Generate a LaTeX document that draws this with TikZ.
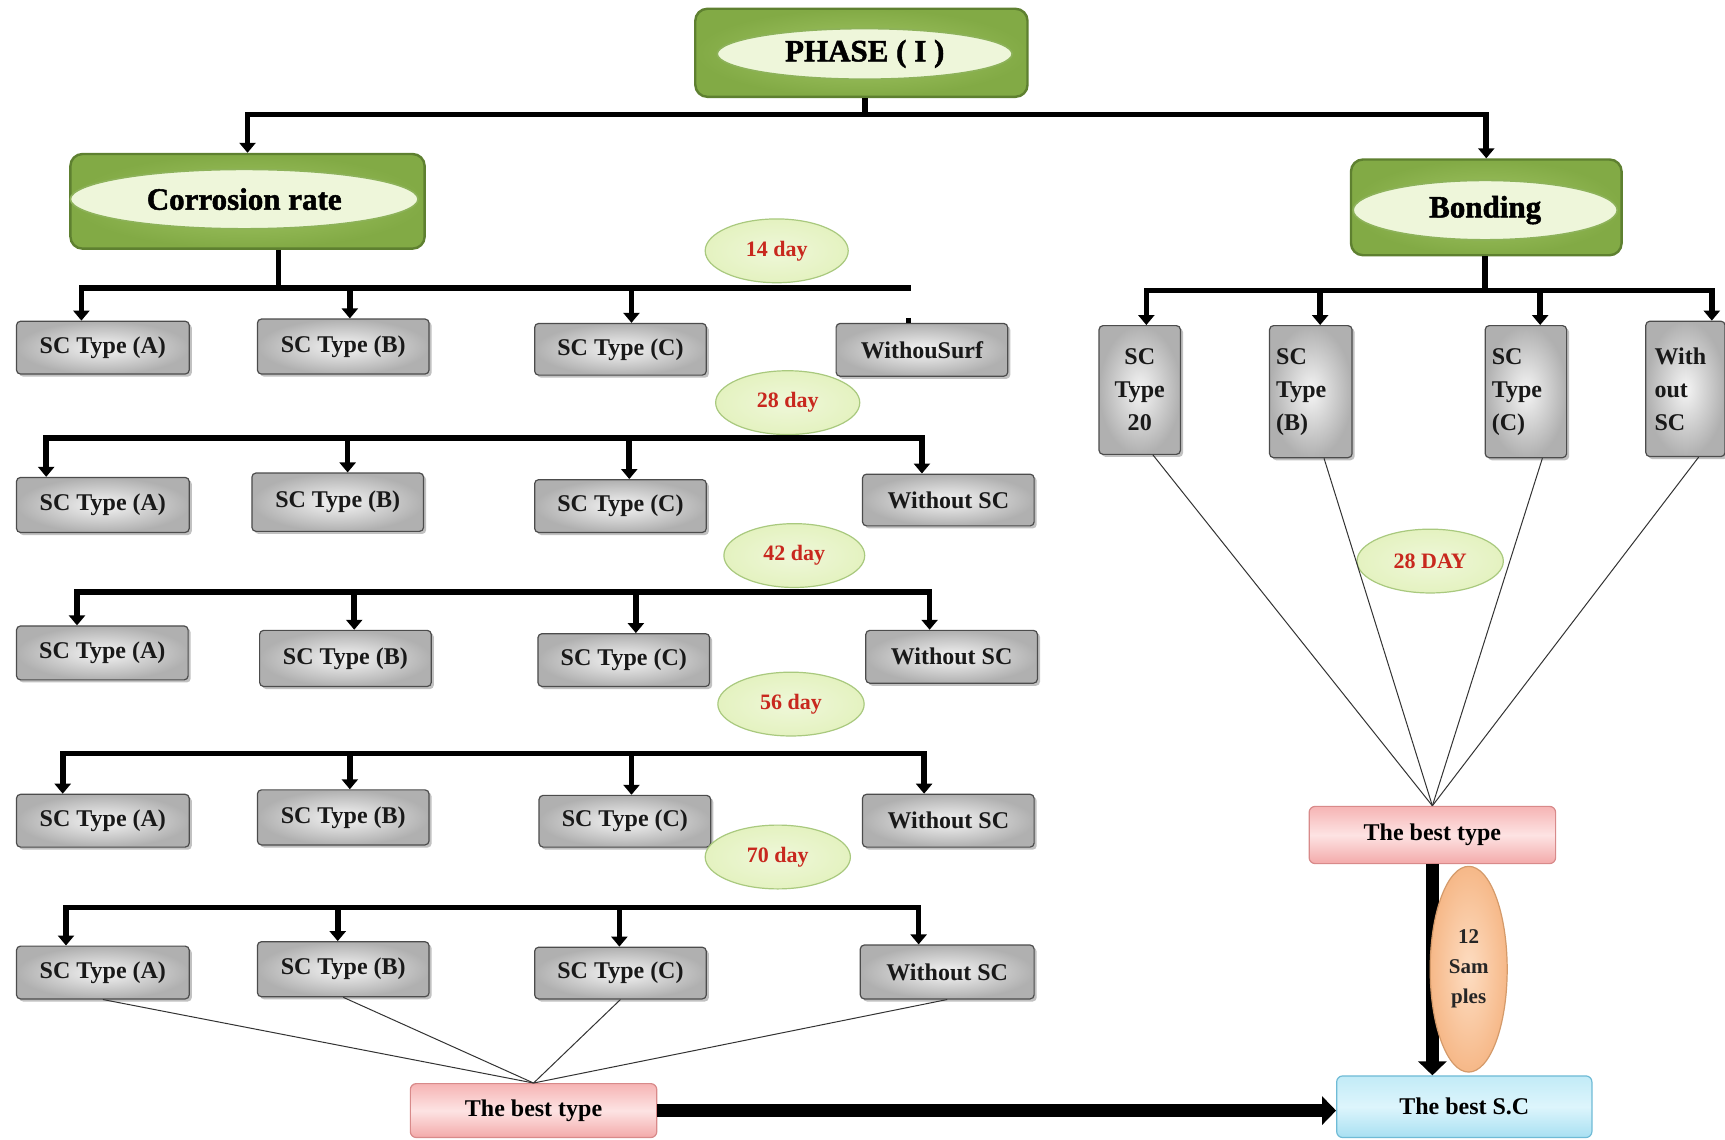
\documentclass[tikz,border=0pt]{standalone}
\usepackage{fontspec}
\setmainfont{Liberation Serif}
\newfontfamily\headfont{Liberation Serif}[BoldFeatures={FakeBold=1.6}]
\usetikzlibrary{shapes.geometric,shadows,arrows.meta,calc}
\definecolor{grnL}{HTML}{A3C766}
\definecolor{grnM}{HTML}{82AA45}
\definecolor{grnD}{HTML}{5E8030}
\definecolor{ellF}{HTML}{EEF6DA}
\definecolor{grnE}{HTML}{8DB25A}
\definecolor{dayF}{HTML}{E4F2C0}
\definecolor{dayD}{HTML}{A9C97E}
\definecolor{dayR}{HTML}{C8281E}
\definecolor{pinkT}{HTML}{F6B4B4}
\definecolor{pinkM}{HTML}{FDE3E3}
\definecolor{pinkB}{HTML}{F3AAAA}
\definecolor{pinkD}{HTML}{D88A8A}
\definecolor{blueT}{HTML}{C2EBF7}
\definecolor{blueM}{HTML}{DDF5FC}
\definecolor{blueB}{HTML}{A8E0F2}
\definecolor{blueD}{HTML}{6FBBD6}
\definecolor{orgI}{HTML}{FDDDC2}
\definecolor{orgO}{HTML}{F6B888}
\definecolor{orgD}{HTML}{D49A6A}
\newcommand\fsz[2]{\fontsize{#1}{#2}\selectfont}
\begin{document}
\begin{tikzpicture}[x=0.55pt,y=-0.55pt,
  sz/.style 2 args={minimum width=#1*0.55pt,minimum height=#2*0.55pt,inner sep=0pt},
  gbox/.style={draw=gray!60!black,line width=0.6pt,rounded corners=2pt,
    inner color=gray!8,outer color=gray!62,
    drop shadow={shadow xshift=1.3pt,shadow yshift=-1.3pt,fill=gray!60,opacity=0.8},
    font=\bfseries\fsz{12}{16.5},text=black!90},
  greenbox/.style={draw=grnD,line width=1.2pt,rounded corners=6pt,inner color=grnL,outer color=grnM},
  gell/.style={ellipse,draw=grnE,line width=0.8pt,fill=ellF,font=\headfont\bfseries\fsz{15.5}{18}},
  day/.style={ellipse,draw=dayD,line width=0.6pt,inner color=white!40!dayF,outer color=dayF,
    text=dayR,font=\bfseries\fsz{11}{13},sz={#1}{58}},
  pinkbox/.style={draw=pinkD,line width=0.6pt,rounded corners=3pt,top color=pinkT,bottom color=pinkB,
    middle color=pinkM,font=\bfseries\fsz{12}{14}},
  bluebox/.style={draw=blueD,line width=0.6pt,rounded corners=3pt,top color=blueT,bottom color=blueB,
    middle color=blueM,font=\bfseries\fsz{12}{14}},
  bar/.style={line width=2.8pt,line join=miter},
  barr/.style={bar,-{Triangle[width=8pt,length=5pt]}},
  barrr/.style={bar,{Triangle[width=8pt,length=5pt]}-{Triangle[width=8pt,length=5pt]}},
  thinl/.style={line width=0.5pt,draw=black!80},
  bigarr/.style={line width=6.5pt,-{Triangle[width=14pt,length=7pt]}}
]
\useasboundingbox (0,0) rectangle (1568,1036);
\fill[white] (0,0) rectangle (1568,1036);

% headings
\node[greenbox,sz={302}{80}] (P) at (783,48) {};
\node[gell,sz={268}{46}] (Pe) at (786,49) {PHASE ( I )};
\node[greenbox,sz={322}{86}] (CR) at (225,183) {};
\node[gell,sz={316}{54}] (CRe) at (222,181) {Corrosion rate};
\node[greenbox,sz={246}{87}] (BD) at (1351,188.5) {};
\node[gell,sz={240}{54}] (BDe) at (1350,191) {Bonding};

% row boxes
\node[gbox,sz={157}{48}] (A1) at (93.5,316) {SC Type (A)};
\node[gbox,sz={156}{50}] (B1) at (312,315) {SC Type (B)};
\node[gbox,sz={156}{47}] (C1) at (564,317.5) {SC Type (C)};
\node[gbox,sz={156}{48}] (W1) at (838,318) {WithouSurf};

\node[gbox,sz={157}{50}] (A2) at (93.5,459) {SC Type (A)};
\node[gbox,sz={156}{53}] (B2) at (307,456.5) {SC Type (B)};
\node[gbox,sz={156}{48}] (C2) at (564,460) {SC Type (C)};
\node[gbox,sz={156}{47}] (W2) at (862,454.5) {Without SC};

\node[gbox,sz={156}{49}] (A3) at (93,593.5) {SC Type (A)};
\node[gbox,sz={156}{51}] (B3) at (314,598.5) {SC Type (B)};
\node[gbox,sz={156}{48}] (C3) at (567,600) {SC Type (C)};
\node[gbox,sz={156}{48}] (W3) at (865,597) {Without SC};

\node[gbox,sz={157}{48}] (A4) at (93.5,746) {SC Type (A)};
\node[gbox,sz={156}{50}] (B4) at (312,743) {SC Type (B)};
\node[gbox,sz={156}{47}] (C4) at (568,746.5) {SC Type (C)};
\node[gbox,sz={156}{48}] (W4) at (862,746) {Without SC};

\node[gbox,sz={157}{48}] (A5) at (93.5,884) {SC Type (A)};
\node[gbox,sz={156}{50}] (B5) at (312,881) {SC Type (B)};
\node[gbox,sz={156}{47}] (C5) at (564,884.5) {SC Type (C)};
\node[gbox,sz={158}{49}] (W5) at (861,883.5) {Without SC};

% vertical boxes (bonding)
\node[gbox,sz={74}{117},align=center] (V1) at (1036,354.5) {SC\\Type\\20};
\node[gbox,sz={75}{120},align=left,text width=63*0.55pt] (V2) at (1191.5,356) {SC\\Type\\(B)};
\node[gbox,sz={74}{120},align=left,text width=62*0.55pt] (V3) at (1387,356) {SC\\Type\\(C)};
\node[gbox,sz={72}{123},align=left,text width=56*0.55pt] (V4) at (1532,353.5) {With\\out\\SC};

% best boxes
\node[pinkbox,sz={224}{49}] (LBT) at (485,1009.5) {The best type};
\node[pinkbox,sz={224}{52}] (RBT) at (1302,759) {The best type};
\node[bluebox,sz={232}{56}] (BSC) at (1331,1006) {The best S.C};

% day ellipses
\node[day=130] (d14) at (706,228) {14 day};
\node[day=131] (d28) at (716,366) {28 day};
\node[day=128] (d42) at (722,505) {42 day};
\node[day=133] (d56) at (719,640) {56 day};
\node[day=132] (d70) at (707,779) {70 day};
\node[day=133] (d28r) at (1300,510) {28 DAY};

% phase connectors
\coordinate (pj) at (786,104);
\draw[bar] (pj |- P.south) -- (pj);
\draw[barr] (pj) -| (CR.north);
\draw[barr] (pj) -| (BD.north);

% corrosion row 1
\coordinate (c1) at (253,262);
\coordinate (r1a) at (74,262);
\coordinate (r1b) at (318,262);
\coordinate (r1c) at (574,262);
\coordinate (r1e) at (828,262);
\coordinate (tick) at (826,289);
\draw[bar] (c1 |- CR.south) -- (c1);
\draw[barr] (r1e) -- (r1a) -- (r1a |- A1.north);
\draw[barr] (r1b) -- (r1b |- B1.north);
\draw[barr] (r1c) -- (r1c |- C1.north);
\draw[line width=2.4pt] (tick) -- (tick |- W1.north);

% row 2
\coordinate (r2a) at (42,398);
\coordinate (r2b) at (316,398);
\coordinate (r2c) at (572,398);
\coordinate (r2e) at (838,398);
\draw[barrr] (r2a |- A2.north) -- (r2a) -- (r2e) -- (r2e |- W2.north);
\draw[barr] (r2b) -- (r2b |- B2.north);
\draw[barr] (r2c) -- (r2c |- C2.north);

% row 3
\coordinate (r3a) at (70,538);
\coordinate (r3b) at (322,538);
\coordinate (r3c) at (578,538);
\coordinate (r3e) at (845,538);
\draw[barrr] (r3a |- A3.north) -- (r3a) -- (r3e) -- (r3e |- W3.north);
\draw[barr] (r3b) -- (r3b |- B3.north);
\draw[barr] (r3c) -- (r3c |- C3.north);

% row 4
\coordinate (r4a) at (57,685);
\coordinate (r4b) at (318,685);
\coordinate (r4c) at (574,685);
\coordinate (r4e) at (840,685);
\draw[barrr] (r4a |- A4.north) -- (r4a) -- (r4e) -- (r4e |- W4.north);
\draw[barr] (r4b) -- (r4b |- B4.north);
\draw[barr] (r4c) -- (r4c |- C4.north);

% row 5
\coordinate (r5a) at (60,825);
\coordinate (r5b) at (307,825);
\coordinate (r5c) at (563,825);
\coordinate (r5e) at (835,825);
\draw[barrr] (r5a |- A5.north) -- (r5a) -- (r5e) -- (r5e |- W5.north);
\draw[barr] (r5b) -- (r5b |- B5.north);
\draw[barr] (r5c) -- (r5c |- C5.north);

% bonding bar
\coordinate (bj) at (1350,264);
\coordinate (ba) at (1042,264);
\coordinate (bb) at (1200,264);
\coordinate (bc) at (1400,264);
\coordinate (be) at (1556,264);
\draw[bar] (bj |- BD.south) -- (bj);
\draw[barrr] (ba |- V1.north) -- (ba) -- (be) -- (be |- V4.north);
\draw[barr] (bb) -- (bb |- V2.north);
\draw[barr] (bc) -- (bc |- V3.north);

% thin convergence lines
\draw[thinl] (A5.south) -- (LBT.north);
\draw[thinl] (B5.south) -- (LBT.north);
\draw[thinl] (C5.south) -- (LBT.north);
\draw[thinl] (W5.south) -- (LBT.north);
\draw[thinl] ($(V1.south)+(12,0)$) -- (RBT.north);
\draw[thinl] ($(V2.south)+(12,0)$) -- (RBT.north);
\draw[thinl] ($(V3.south)+(15,0)$) -- (RBT.north);
\draw[thinl] ($(V4.south)+(12,0)$) -- (RBT.north);

% big arrows
\draw[bigarr] (LBT.east) -- (LBT.east -| BSC.west);
\draw[bigarr] (RBT.south) -- (RBT.south |- BSC.north);
\node[ellipse,draw=orgD,line width=0.6pt,inner color=orgI,outer color=orgO,sz={70}{187},
  align=center,font=\bfseries\fsz{10.5}{15},text=black!85] (S12) at (1335,881) {12\\Sam\\ples};
\end{tikzpicture}
\end{document}
